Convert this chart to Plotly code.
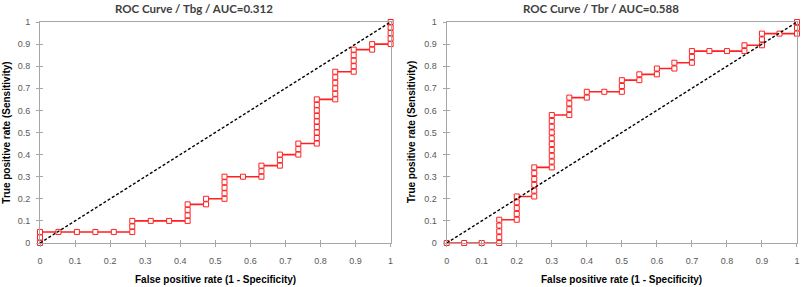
import plotly.graph_objects as go

# ---- data ----
tbg_fpr = [0, 0, 0,
           0.0526, 0.1053, 0.1579, 0.2105, 0.2632,
           0.2632, 0.2632,
           0.3158, 0.3684, 0.4211,
           0.4211, 0.4211, 0.4211,
           0.4737, 0.4737,
           0.5263, 0.5263, 0.5263, 0.5263, 0.5263,
           0.5789, 0.6316, 0.6316, 0.6316,
           0.6842, 0.6842, 0.6842,
           0.7368, 0.7368, 0.7368,
           0.7895, 0.7895, 0.7895, 0.7895, 0.7895, 0.7895, 0.7895, 0.7895, 0.7895,
           0.8421, 0.8421, 0.8421, 0.8421, 0.8421, 0.8421,
           0.8947, 0.8947, 0.8947, 0.8947, 0.8947,
           0.9474, 0.9474,
           1, 1, 1, 1, 1]
tbg_tpr = [0, 0.025, 0.05,
           0.05, 0.05, 0.05, 0.05, 0.05,
           0.075, 0.1,
           0.1, 0.1, 0.1,
           0.125, 0.15, 0.175,
           0.175, 0.2,
           0.2, 0.225, 0.25, 0.275, 0.3,
           0.3, 0.3, 0.325, 0.35,
           0.35, 0.375, 0.4,
           0.4, 0.425, 0.45,
           0.45, 0.475, 0.5, 0.525, 0.55, 0.575, 0.6, 0.625, 0.65,
           0.65, 0.675, 0.7, 0.725, 0.75, 0.775,
           0.775, 0.8, 0.825, 0.85, 0.875,
           0.875, 0.9,
           0.9, 0.925, 0.95, 0.975, 1]

tbr_fpr = [0, 0.05, 0.1, 0.15,
           0.15, 0.15, 0.15, 0.15,
           0.2, 0.2, 0.2, 0.2, 0.2,
           0.25, 0.25, 0.25, 0.25, 0.25, 0.25,
           0.3, 0.3, 0.3, 0.3, 0.3, 0.3, 0.3, 0.3, 0.3, 0.3,
           0.35, 0.35, 0.35, 0.35,
           0.4, 0.4,
           0.45, 0.5, 0.5, 0.5,
           0.55, 0.55,
           0.6, 0.6,
           0.65, 0.65,
           0.7, 0.7, 0.7,
           0.75, 0.8, 0.85, 0.85,
           0.9, 0.9, 0.9,
           0.95, 1, 1, 1]
tbr_tpr = [0, 0, 0, 0,
           0.0263, 0.0526, 0.0789, 0.1053,
           0.1053, 0.1316, 0.1579, 0.1842, 0.2105,
           0.2105, 0.2368, 0.2632, 0.2895, 0.3158, 0.3421,
           0.3421, 0.3684, 0.3947, 0.4211, 0.4474, 0.4737, 0.5, 0.5263, 0.5526, 0.5789,
           0.5789, 0.6053, 0.6316, 0.6579,
           0.6579, 0.6842,
           0.6842, 0.6842, 0.7105, 0.7368,
           0.7368, 0.7632,
           0.7632, 0.7895,
           0.7895, 0.8158,
           0.8158, 0.8421, 0.8684,
           0.8684, 0.8684, 0.8684, 0.8947,
           0.8947, 0.9211, 0.9474,
           0.9474, 0.9474, 0.9737, 1]

diag = [0, 1]
tick_vals = [0, 0.1, 0.2, 0.3, 0.4, 0.5, 0.6, 0.7, 0.8, 0.9, 1]
tick_text = ["0", "0.1", "0.2", "0.3", "0.4", "0.5", "0.6", "0.7", "0.8", "0.9", "1"]

titles = ["ROC Curve / Tbg / AUC=0.312", "ROC Curve / Tbr / AUC=0.588"]
x_title = "False positive rate (1 - Specificity)"
y_title = "True positive rate (Sensitivity)"

# ---- layout geometry ----
W, H = 803, 287
ML, MR, MT, MB = 40, 3, 22, 44
PW = W - ML - MR
PH = H - MT - MB
dom1 = [0, 352 / PW]
dom2 = [408.3 / PW, 1]

RED = "#FF2020"
AXC = "#A6A6A6"
TICKF = dict(family="Liberation Sans, Arial", size=9, color="#595959")

fig = go.Figure()

def roc_trace(x, y, xa, ya):
    return go.Scatter(x=x, y=y, xaxis=xa, yaxis=ya, mode="lines+markers",
                      line=dict(color=RED, width=1.6),
                      marker=dict(symbol="square", size=5, color="white",
                                  line=dict(color=RED, width=1)),
                      cliponaxis=False, showlegend=False, hoverinfo="x+y")

def diag_trace(xa, ya):
    return go.Scatter(x=diag, y=diag, xaxis=xa, yaxis=ya, mode="lines",
                      line=dict(color="black", width=1.4, dash="3px,2px"),
                      showlegend=False, hoverinfo="skip")

fig.add_trace(roc_trace(tbg_fpr, tbg_tpr, "x", "y"))
fig.add_trace(roc_trace(tbr_fpr, tbr_tpr, "x2", "y2"))
fig.add_trace(diag_trace("x3", "y3"))
fig.add_trace(diag_trace("x4", "y4"))

def main_axis(domain, anchor):
    return dict(domain=domain, anchor=anchor, range=[0, 1], tickvals=tick_vals,
                ticktext=tick_text, ticks="outside", ticklen=3, tickwidth=1,
                tickcolor=AXC, showline=True, linecolor=AXC, linewidth=1,
                mirror=True, showgrid=False, zeroline=False, tickfont=TICKF,
                fixedrange=True)

def over_axis(overlay, anchor, side):
    return dict(overlaying=overlay, anchor=anchor, side=side, range=[0, 1],
                tickvals=tick_vals, ticks="inside", ticklen=3, tickwidth=1,
                tickcolor=AXC, showline=False, showgrid=False, zeroline=False,
                showticklabels=False, fixedrange=True)

xa1 = main_axis(dom1, "y")
xa2 = main_axis(dom2, "y2")
ya1 = main_axis([0, 1], "x")
ya2 = main_axis([0, 1], "x2")
xa1["ticklabelstandoff"] = 6
xa2["ticklabelstandoff"] = 6
ya1["ticklabelstandoff"] = 4
ya2["ticklabelstandoff"] = 4

fig.update_layout(
    width=W, height=H,
    margin=dict(l=ML, r=MR, t=MT, b=MB, pad=0),
    paper_bgcolor="white", plot_bgcolor="white",
    xaxis=xa1, yaxis=ya1, xaxis2=xa2, yaxis2=ya2,
    xaxis3=over_axis("x", "y", "bottom"), yaxis3=over_axis("y", "x", "left"),
    xaxis4=over_axis("x2", "y2", "bottom"), yaxis4=over_axis("y2", "x2", "left"),
)

def px_x(p):
    return (p - ML) / PW

def px_y(p):
    return 1 - (p - MT) / PH

ann = []
TITLEF = dict(family="Lato, Carlito, Liberation Sans", size=11.5, color="#404040")
AXTF = dict(family="Liberation Sans, Arial", size=10, color="black")
for cx, t in [(195, titles[0]), (603, titles[1])]:
    ann.append(dict(text="<b>" + t + "</b>", x=px_x(cx), y=px_y(9), xref="paper",
                    yref="paper", showarrow=False, font=TITLEF,
                    xanchor="center", yanchor="middle"))
for cx in [216, 624]:
    ann.append(dict(text="<b>" + x_title + "</b>", x=px_x(cx), y=px_y(279),
                    xref="paper", yref="paper", showarrow=False, font=AXTF,
                    xanchor="center", yanchor="middle"))
for cx in [6, 413]:
    ann.append(dict(text="<b>" + y_title + "</b>", x=px_x(cx), y=px_y(132.5),
                    xref="paper", yref="paper", showarrow=False, font=AXTF,
                    textangle=-90, xanchor="center", yanchor="middle"))
fig.update_layout(annotations=ann)

fig.write_html("out.html",
               config={"displayModeBar": False},
               post_script="document.body.style.margin='0';"
                           "document.body.style.overflow='hidden';")
